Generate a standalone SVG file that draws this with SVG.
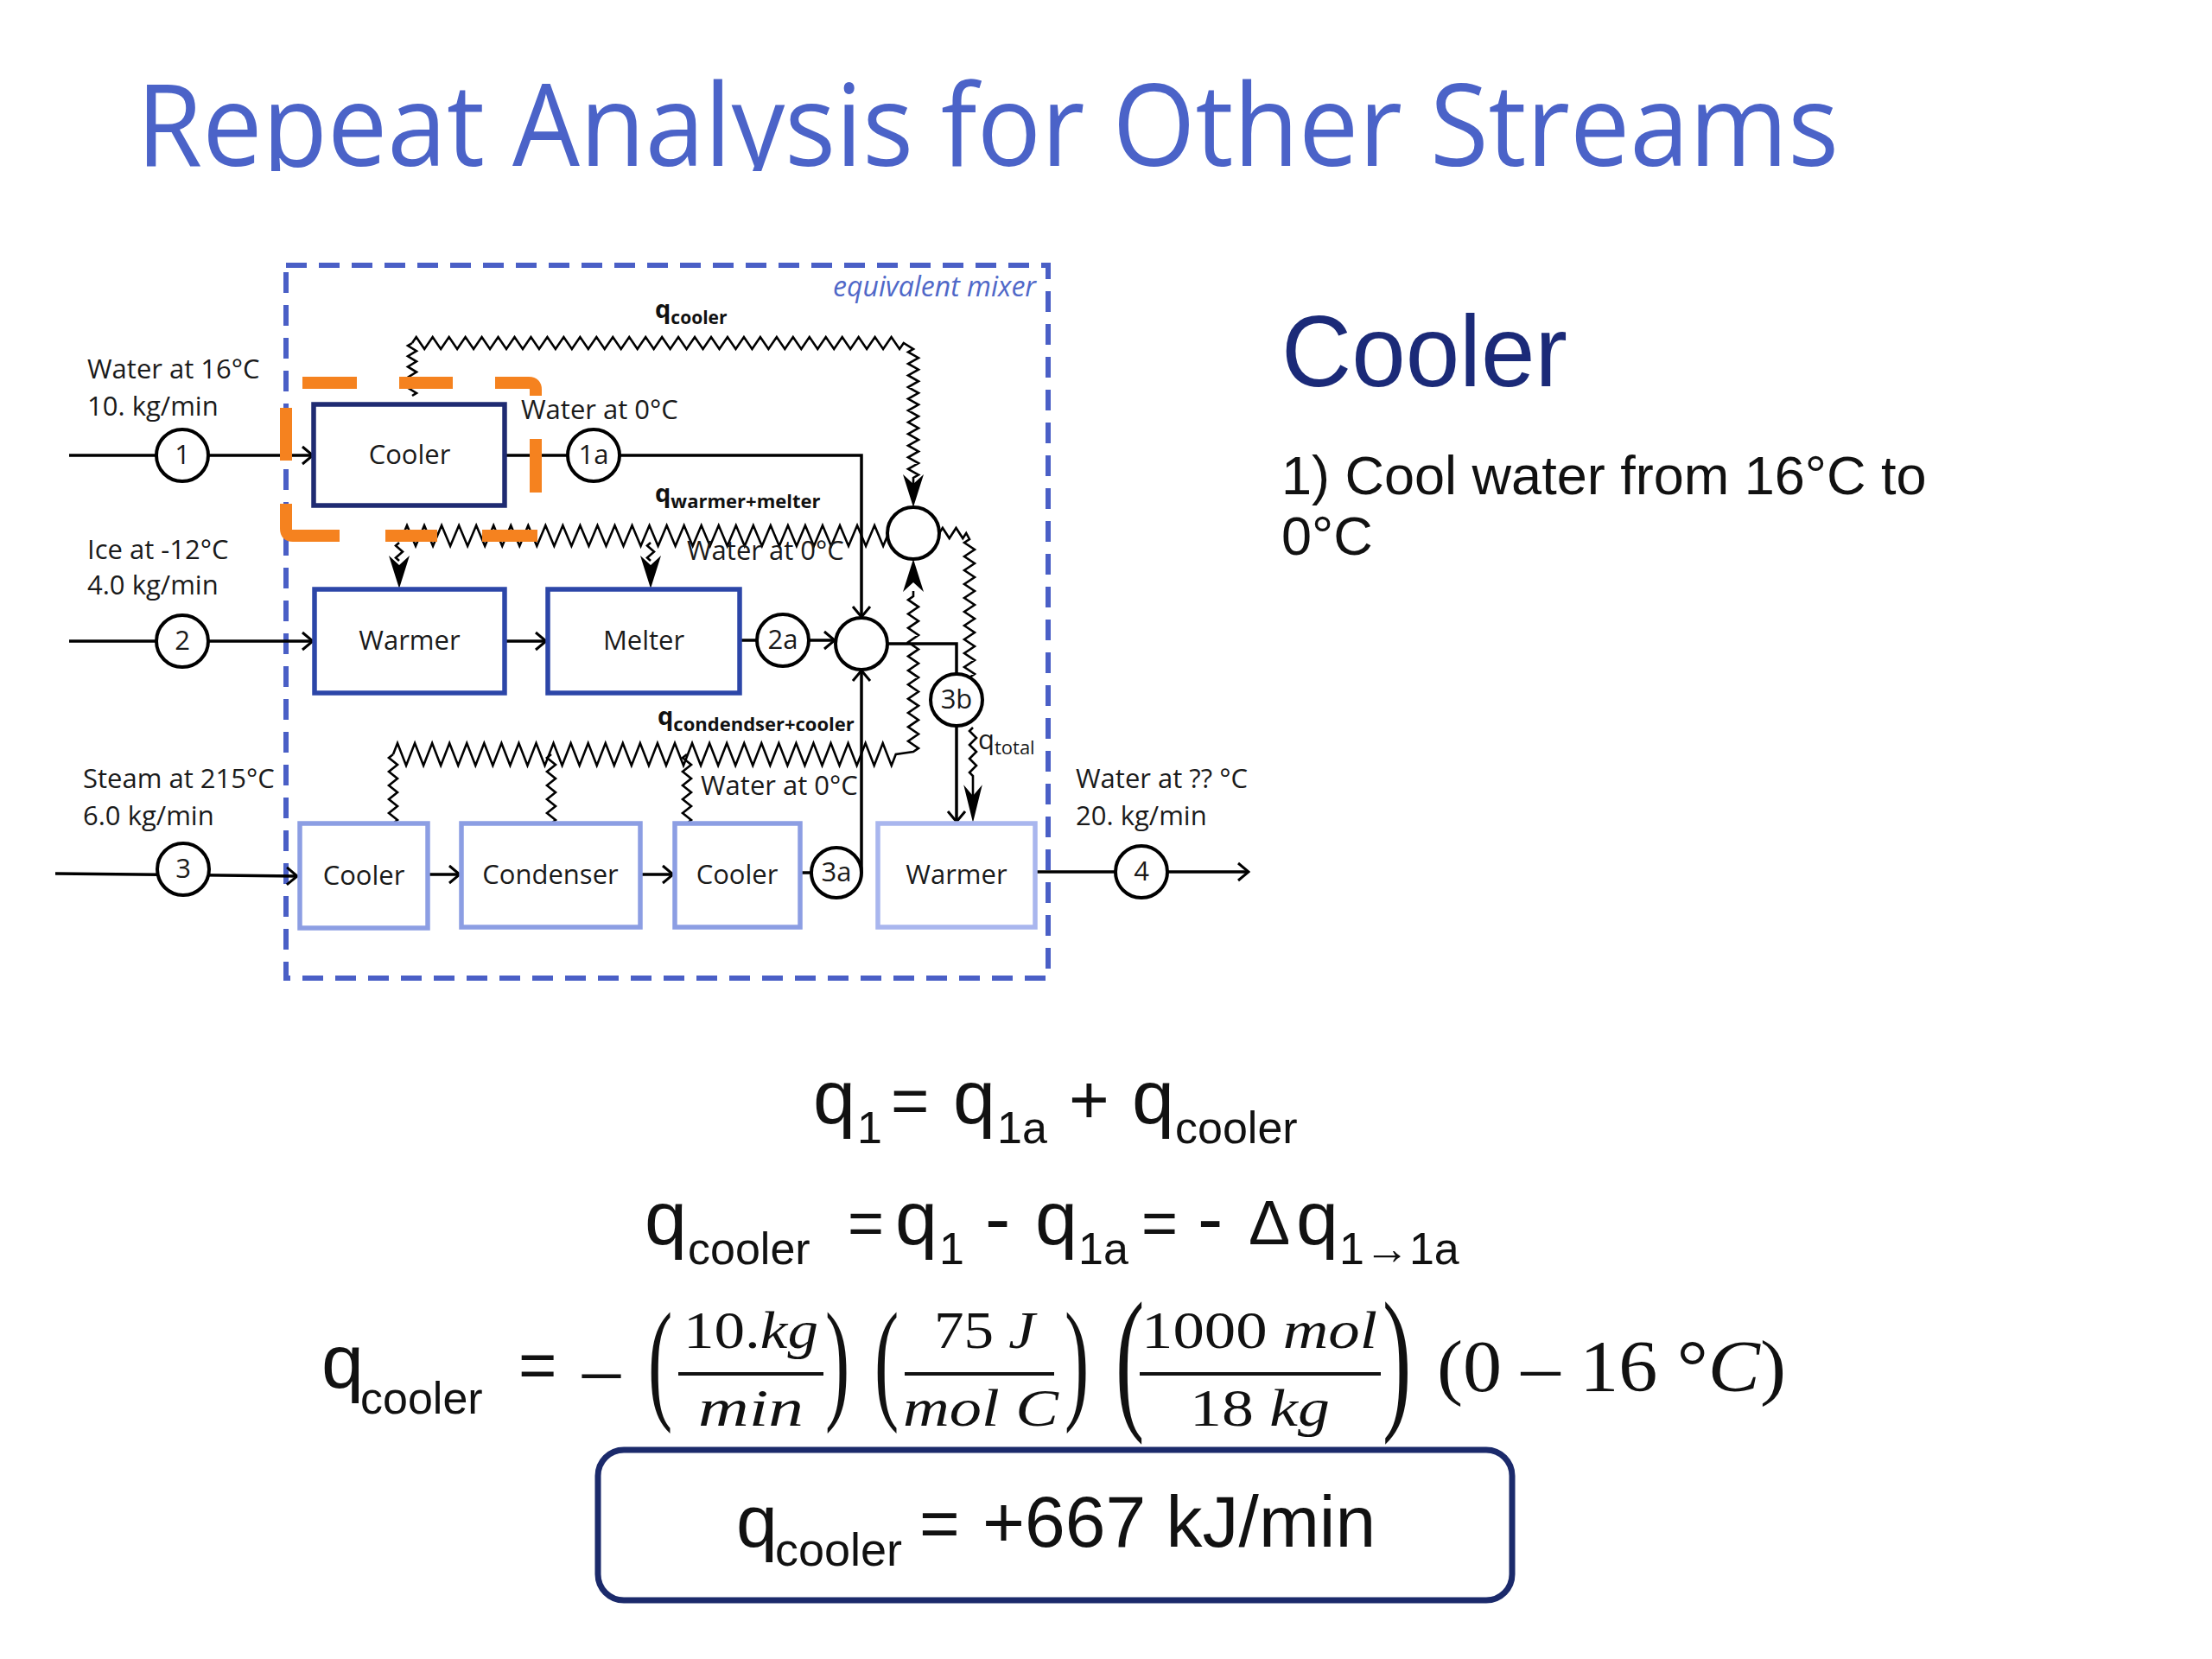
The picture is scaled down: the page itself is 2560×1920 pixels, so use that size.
<svg xmlns="http://www.w3.org/2000/svg" xmlns:xlink="http://www.w3.org/1999/xlink" width="2560" height="1920" viewBox="0 0 2560 1920">
<style>
.ln{stroke:#000;stroke-width:3.5;fill:none}
.zz{stroke:#000;stroke-width:2.6;fill:none;stroke-linejoin:miter}
.circ{fill:#fff;stroke:#000;stroke-width:4}
.box{fill:#fff;stroke-width:5.5}
.lbl{font-family:"Open Sans","DejaVu Sans",sans-serif;font-size:31px;fill:#1a1a1a}
.ctr{text-anchor:middle}
.ql{font-family:"Open Sans","DejaVu Sans",sans-serif;font-weight:bold;fill:#111}
.eq{font-family:"Liberation Sans",Arial,sans-serif;fill:#111}
.mth{font-family:"Liberation Serif","Times New Roman",serif;fill:#111}
.it{font-style:italic}
</style>
<defs>
<marker id="chev" markerUnits="userSpaceOnUse" viewBox="0 0 20 24" markerWidth="20" markerHeight="24" refX="18" refY="12" orient="auto">
<path d="M6,2 L18,12 L6,22" fill="none" stroke="#000" stroke-width="3"/>
</marker>
<path id="fa" d="M0,0 L-12,-38 L0,-27 L12,-38 Z" fill="#000"/>
<clipPath id="titleclip"><rect x="0" y="0" width="2560" height="198"/></clipPath>
</defs>
<rect width="2560" height="1920" fill="#fff"/>

<text x="158" y="192" font-family="'Open Sans','DejaVu Sans',sans-serif" font-size="132" fill="#4b63c8" textLength="1970" lengthAdjust="spacingAndGlyphs" clip-path="url(#titleclip)">Repeat Analysis for Other Streams</text>

<g id="side-notes">
<text x="1483" y="447" font-family="'Liberation Sans',Arial,sans-serif" font-size="116" fill="#1b2a78" textLength="331" lengthAdjust="spacingAndGlyphs">Cooler</text>
<text x="1483" y="572" font-family="'Liberation Sans',Arial,sans-serif" font-size="63" fill="#111">1) Cool water from 16°C to</text>
<text x="1483" y="642" font-family="'Liberation Sans',Arial,sans-serif" font-size="63" fill="#111">0°C</text>
</g>

<g id="mixer-boundary">
<rect x="331" y="307" width="882" height="825" fill="none" stroke="#4a5fc6" stroke-width="6" stroke-dasharray="24 14"/>
<text x="1199" y="343" text-anchor="end" font-family="'Open Sans','DejaVu Sans',sans-serif" font-style="italic" font-size="32" fill="#5068c8">equivalent mixer</text>
</g>

<g id="connectors">
<path class="ln" d="M80,527 H362" marker-end="url(#chev)"/>
<path class="ln" d="M584,527 H657"/>
<path class="ln" d="M717,527 H997 V714" marker-end="url(#chev)"/>
<path class="ln" d="M80,742 H362" marker-end="url(#chev)"/>
<path class="ln" d="M584,742 H632" marker-end="url(#chev)"/>
<path class="ln" d="M856,741 H876"/>
<path class="ln" d="M936,741 H966" marker-end="url(#chev)"/>
<path class="ln" d="M1027,745 H1107 V780"/>
<path class="ln" d="M1107,840 V951" marker-end="url(#chev)"/>
<path class="ln" d="M64,1011 L344,1014" marker-end="url(#chev)"/>
<path class="ln" d="M495,1012 H532" marker-end="url(#chev)"/>
<path class="ln" d="M741,1012 H779" marker-end="url(#chev)"/>
<path class="ln" d="M926,1010 H939"/>
<path class="ln" d="M997,1010 V776" marker-end="url(#chev)"/>
<path class="ln" d="M1198,1009 H1291"/>
<path class="ln" d="M1351,1009 H1445" marker-end="url(#chev)"/>

<path class="zz" d="M477,397 l4.74,-7 9.48,14 9.48,-14 9.48,14 9.48,-14 9.48,14 9.48,-14 9.48,14 9.48,-14 9.48,14 9.48,-14 9.48,14 9.48,-14 9.48,14 9.48,-14 9.48,14 9.48,-14 9.48,14 9.48,-14 9.48,14 9.48,-14 9.48,14 9.48,-14 9.48,14 9.48,-14 9.48,14 9.48,-14 9.48,14 9.48,-14 9.48,14 9.48,-14 9.48,14 9.48,-14 9.48,14 9.48,-14 9.48,14 9.48,-14 9.48,14 9.48,-14 9.48,14 9.48,-14 9.48,14 9.48,-14 9.48,14 9.48,-14 9.48,14 9.48,-14 9.48,14 9.48,-14 9.48,14 9.48,-14 9.48,14 9.48,-14 9.48,14 9.48,-14 9.48,14 9.48,-14 9.48,14 9.48,-14 9.48,14 4.74,-7 L1057,404 l-6,3.4 12,6.77 -12,6.77 12,6.77 -12,6.77 12,6.77 -12,6.77 12,6.77 -12,6.77 12,6.77 -12,6.77 12,6.77 -12,6.77 12,6.77 -12,6.77 12,6.77 -12,6.77 12,6.77 -12,6.77 12,6.77 -12,6.77 12,6.77 -6,3.4 L1057,562"/>
<path class="zz" d="M477,397 l-5,3.05 10,6.1 -10,6.1 10,6.1 -10,6.1 10,6.1 -10,6.1 10,6.1 -10,6.1 10,6.1 -5,3.05"/>
<path class="zz" d="M466,620 l5.01,-12 10.02,24 10.02,-24 10.02,24 10.02,-24 10.02,24 10.02,-24 10.02,24 10.02,-24 10.02,24 10.02,-24 10.02,24 10.02,-24 10.02,24 10.02,-24 10.02,24 10.02,-24 10.02,24 10.02,-24 10.02,24 10.02,-24 10.02,24 10.02,-24 10.02,24 10.02,-24 10.02,24 10.02,-24 10.02,24 10.02,-24 10.02,24 10.02,-24 10.02,24 10.02,-24 10.02,24 10.02,-24 10.02,24 10.02,-24 10.02,24 10.02,-24 10.02,24 10.02,-24 10.02,24 10.02,-24 10.02,24 10.02,-24 10.02,24 10.02,-24 10.02,24 10.02,-24 10.02,24 10.02,-24 10.02,24 10.02,-24 10.02,24 10.02,-24 10.02,24 5.01,-12"/>
<path class="zz" d="M462,628 l-4,3.5 8,7 -8,7 4,3.5"/>
<path class="zz" d="M753,628 l-4,3.5 8,7 -8,7 4,3.5"/>
<path class="zz" d="M1087,617 l3.9,-6 7.8,12 7.8,-12 7.8,12 3.9,-6 L1122,624 l-6,4 12,8 -12,8 12,8 -12,8 12,8 -12,8 12,8 -12,8 12,8 -12,8 12,8 -12,8 12,8 -12,8 12,8 -12,8 12,8 -12,8 12,8 -6,4"/>
<path class="zz" d="M455,873 l5.02,-13 10.03,26 10.03,-26 10.03,26 10.03,-26 10.03,26 10.03,-26 10.03,26 10.03,-26 10.03,26 10.03,-26 10.03,26 10.03,-26 10.03,26 10.03,-26 10.03,26 10.03,-26 10.03,26 10.03,-26 10.03,26 10.03,-26 10.03,26 10.03,-26 10.03,26 10.03,-26 10.03,26 10.03,-26 10.03,26 10.03,-26 10.03,26 10.03,-26 10.03,26 10.03,-26 10.03,26 10.03,-26 10.03,26 10.03,-26 10.03,26 10.03,-26 10.03,26 10.03,-26 10.03,26 10.03,-26 10.03,26 10.03,-26 10.03,26 10.03,-26 10.03,26 10.03,-26 10.03,26 10.03,-26 10.03,26 10.03,-26 10.03,26 10.03,-26 10.03,26 10.03,-26 10.03,26 5.02,-13 L1057,870 l6,-4.09 -12,-8.18 12,-8.18 -12,-8.18 12,-8.18 -12,-8.18 12,-8.18 -12,-8.18 12,-8.18 -12,-8.18 12,-8.18 -12,-8.18 12,-8.18 -12,-8.18 12,-8.18 -12,-8.18 12,-8.18 -12,-8.18 12,-8.18 -12,-8.18 12,-8.18 -12,-8.18 6,-4.09 L1057,684"/>
<path class="zz" d="M455,873 l-5,4 10,8 -10,8 10,8 -10,8 10,8 -10,8 10,8 -10,8 10,8 -5,4"/>
<path class="zz" d="M638,873 l-5,4 10,8 -10,8 10,8 -10,8 10,8 -10,8 10,8 -10,8 10,8 -5,4"/>
<path class="zz" d="M795,873 l-5,4 10,8 -10,8 10,8 -10,8 10,8 -10,8 10,8 -10,8 10,8 -5,4"/>
<path class="zz" d="M1126,842 l-4,4 8,8 -8,8 8,8 -8,8 8,8 -8,8 4,4 L1126,922"/>
<use xlink:href="#fa" href="#fa" transform="translate(462,681)"/>
<use xlink:href="#fa" href="#fa" transform="translate(753,681)"/>
<use xlink:href="#fa" href="#fa" transform="translate(1057,587)"/>
<use xlink:href="#fa" href="#fa" transform="translate(1057,647) rotate(180)"/>
<use xlink:href="#fa" href="#fa" transform="translate(1126,952) scale(0.9,1.15)"/>
</g>

<g id="heat-labels">
<text class="ql" x="758" y="368" font-size="29">q<tspan font-size="21" dy="7">cooler</tspan></text>
<text class="ql" x="758" y="581" font-size="29">q<tspan font-size="22" dy="7">warmer+melter</tspan></text>
<text class="ql" x="761" y="839" font-size="29">q<tspan font-size="22" dy="7">condendser+cooler</tspan></text>
<text class="lbl" x="1132" y="867" font-size="31">q<tspan font-size="22" dy="6">total</tspan></text>
</g>

<g id="stream-labels" class="lbl">
<text x="101" y="438">Water at 16°C</text>
<text x="101" y="481">10. kg/min</text>
<text x="101" y="647">Ice at -12°C</text>
<text x="101" y="688">4.0 kg/min</text>
<text x="96" y="912">Steam at 215°C</text>
<text x="96" y="955">6.0 kg/min</text>
<text x="1245" y="912">Water at ?? °C</text>
<text x="1245" y="955">20. kg/min</text>
<text x="603" y="485">Water at 0°C</text>
<text x="795" y="648">Water at 0°C</text>
<text x="811" y="920">Water at 0°C</text>
</g>

<g id="focus-highlight">
<path d="M350,443 H413 M462,443 H524 M573,443 H612 Q620,443 620,451 V458 M620,508 V570 M331,472 V533 M331,583 V612 Q331,620 339,620 H393 M446,620 H506 M558,620 H622" fill="none" stroke="#f5821f" stroke-width="14"/>
</g>

<g id="node-cooler1"><rect class="box" x="363" y="468" width="221" height="117" stroke="#1f2b72"/><text class="lbl ctr" x="474" y="537">Cooler</text></g>
<g id="node-warmer1"><rect class="box" x="364" y="682" width="220" height="120" stroke="#2c46a8"/><text class="lbl ctr" x="474" y="752">Warmer</text></g>
<g id="node-melter"><rect class="box" x="634" y="682" width="222" height="120" stroke="#2c46a8"/><text class="lbl ctr" x="745" y="752">Melter</text></g>
<g id="node-cooler2"><rect class="box" x="347" y="953" width="148" height="121" stroke="#8c9ee3"/><text class="lbl ctr" x="421" y="1024">Cooler</text></g>
<g id="node-condenser"><rect class="box" x="534" y="953" width="207" height="120" stroke="#8c9ee3"/><text class="lbl ctr" x="637" y="1023">Condenser</text></g>
<g id="node-cooler3"><rect class="box" x="781" y="953" width="145" height="120" stroke="#8c9ee3"/><text class="lbl ctr" x="853" y="1023">Cooler</text></g>
<g id="node-warmer2"><rect class="box" x="1016" y="953" width="182" height="120" stroke="#a9b6ee"/><text class="lbl ctr" x="1107" y="1023">Warmer</text></g>

<g id="node-s1"><circle class="circ" cx="211" cy="527" r="30"/><text class="lbl ctr" x="211" y="537" font-size="29">1</text></g>
<g id="node-s2"><circle class="circ" cx="211" cy="742" r="30"/><text class="lbl ctr" x="211" y="752" font-size="29">2</text></g>
<g id="node-s3"><circle class="circ" cx="212" cy="1006" r="30"/><text class="lbl ctr" x="212" y="1016" font-size="29">3</text></g>
<g id="node-s1a"><circle class="circ" cx="687" cy="527" r="30"/><text class="lbl ctr" x="687" y="537" font-size="29">1a</text></g>
<g id="node-s2a"><circle class="circ" cx="906" cy="741" r="30"/><text class="lbl ctr" x="906" y="751" font-size="29">2a</text></g>
<g id="node-s3a"><circle class="circ" cx="968" cy="1010" r="29"/><text class="lbl ctr" x="968" y="1020" font-size="29">3a</text></g>
<g id="node-s3b"><circle class="circ" cx="1107" cy="810" r="30"/><text class="lbl ctr" x="1107" y="820" font-size="29">3b</text></g>
<g id="node-s4"><circle class="circ" cx="1321" cy="1009" r="30"/><text class="lbl ctr" x="1321" y="1019" font-size="29">4</text></g>
<g id="node-mix-stream"><circle class="circ" cx="997" cy="745" r="30"/></g>
<g id="node-mix-heat"><circle class="circ" cx="1057" cy="617" r="30"/></g>

<g id="eq1" class="eq">
<text y="1300" font-size="88"><tspan x="941">q</tspan><tspan x="992" y="1323" font-size="52">1</tspan><tspan x="1031" y="1300" font-size="76">=</tspan><tspan x="1103" font-size="88">q</tspan><tspan x="1154" y="1323" font-size="52">1a</tspan><tspan x="1237" y="1300" font-size="80">+</tspan><tspan x="1310" font-size="88">q</tspan><tspan x="1360" y="1323" font-size="52">cooler</tspan></text>
</g>
<g id="eq2" class="eq">
<text y="1440" font-size="88"><tspan x="746">q</tspan><tspan x="796" y="1463" font-size="52">cooler</tspan><tspan x="981" y="1440" font-size="72">=</tspan><tspan x="1036" font-size="88">q</tspan><tspan x="1087" y="1463" font-size="52">1</tspan><tspan x="1140" y="1440">-</tspan><tspan x="1198">q</tspan><tspan x="1248" y="1463" font-size="52">1a</tspan><tspan x="1321" y="1440" font-size="72">=</tspan><tspan x="1386" font-size="88">-</tspan><tspan x="1445" font-size="72">Δ</tspan><tspan x="1500" font-size="88">q</tspan><tspan x="1550" y="1463" font-size="52">1→1a</tspan></text>
</g>
<g id="eq3">
<text class="eq" y="1606" font-size="88"><tspan x="372">q</tspan><tspan x="417" y="1636" font-size="52">cooler</tspan><tspan x="600" y="1606" font-size="76">=</tspan></text>
<text class="mth" x="674" y="1614" font-size="88">–</text>
<text class="mth" transform="translate(750,1626) scale(0.55,1)" font-size="154">(</text>
<text class="mth" transform="translate(955,1626) scale(0.55,1)" font-size="154">)</text>
<text class="mth" transform="translate(1012,1626) scale(0.55,1)" font-size="154">(</text>
<text class="mth" transform="translate(1232,1626) scale(0.55,1)" font-size="154">)</text>
<text class="mth" transform="translate(1291,1633) scale(0.55,1)" font-size="182">(</text>
<text class="mth" transform="translate(1600,1633) scale(0.55,1)" font-size="182">)</text>
<text class="mth" x="791" y="1560" font-size="62" textLength="156" lengthAdjust="spacingAndGlyphs">10.<tspan class="it">kg</tspan></text>
<text class="mth it" x="808" y="1650" font-size="62" textLength="122" lengthAdjust="spacingAndGlyphs">min</text>
<text class="mth" x="1081" y="1560" font-size="62" textLength="117" lengthAdjust="spacingAndGlyphs">75 <tspan class="it">J</tspan></text>
<text class="mth it" x="1045" y="1650" font-size="62" textLength="180" lengthAdjust="spacingAndGlyphs">mol C</text>
<text class="mth" x="1321" y="1560" font-size="62" textLength="273" lengthAdjust="spacingAndGlyphs">1000 <tspan class="it">mol</tspan></text>
<text class="mth" x="1377" y="1650" font-size="62" textLength="162" lengthAdjust="spacingAndGlyphs">18 <tspan class="it">kg</tspan></text>
<path d="M785,1590 H953 M1047,1590 H1220 M1319,1590 H1598" stroke="#111" stroke-width="4" fill="none"/>
<text class="mth" x="1663" y="1610" font-size="84" textLength="404" lengthAdjust="spacingAndGlyphs">(0 – 16 °<tspan class="it">C</tspan>)</text>
</g>

<g id="result">
<rect x="692" y="1678" width="1058" height="174" rx="30" ry="30" fill="#fff" stroke="#1b2a6b" stroke-width="7"/>
<text class="eq" y="1790" font-size="86"><tspan x="852">q</tspan><tspan x="897" y="1812" font-size="54">cooler</tspan><tspan x="1064" y="1790" font-size="80">=</tspan><tspan x="1137" font-size="84">+667 kJ/min</tspan></text>
</g>
</svg>
